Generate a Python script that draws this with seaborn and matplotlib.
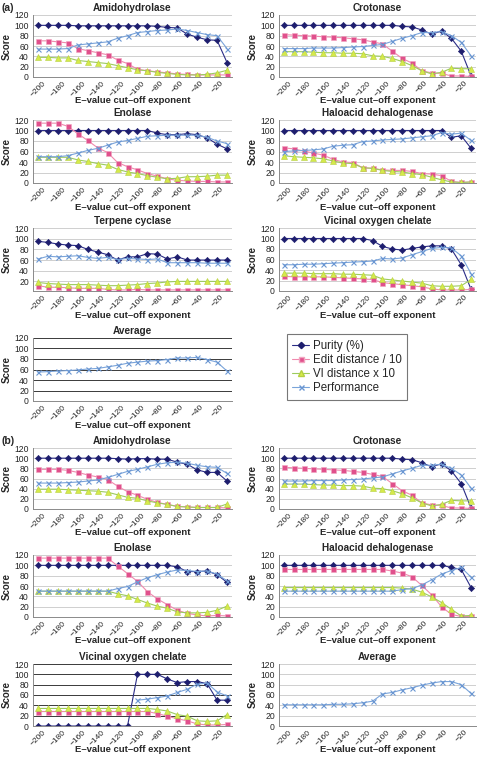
import matplotlib
matplotlib.use("Agg")
import matplotlib.pyplot as plt
from matplotlib.lines import Line2D
import seaborn as sns

# E-value cut-off exponents (x axis)
exponents = list(range(-200, -9, 10))
tick_pos = list(range(-200, -19, 20))

# ---- (a) ----
amido_a_purity = [100, 100, 100, 100, 99, 99, 99, 99, 99, 99, 99, 99, 98, 96, 95, 83, 77, 72, 71, 28]
amido_a_edit = [70, 70, 68, 66, 55, 51, 47, 43, 33, 26, 15, 12, 10, 8, 6, 5, 4, 4, 4, 4]
amido_a_vi = [38, 38, 37, 37, 32, 30, 28, 26, 22, 18, 14, 12, 9, 7, 5, 4, 4, 5, 8, 13]
amido_a_perf = [54, 54, 54, 55, 62, 64, 66, 68, 75, 80, 86, 88, 90, 91, 93, 90, 86, 82, 80, 55]

crot_a_purity = [100, 100, 100, 100, 100, 100, 100, 100, 100, 100, 100, 100, 98, 97, 91, 83, 89, 75, 50, 2]
crot_a_edit = [82, 81, 80, 79, 78, 77, 76, 74, 72, 68, 64, 50, 36, 27, 12, 8, 7, 2, 2, 1]
crot_a_vi = [49, 49, 49, 48, 47, 47, 46, 46, 45, 41, 40, 36, 30, 22, 12, 6, 9, 17, 16, 16]
crot_a_perf = [55, 55, 55, 56, 56, 56, 57, 58, 59, 61, 63, 69, 75, 80, 86, 86, 88, 80, 67, 41]

enol_a_purity = [100, 100, 100, 100, 100, 100, 100, 100, 100, 100, 100, 100, 95, 92, 92, 94, 92, 86, 74, 65]
enol_a_edit = [114, 114, 114, 108, 94, 81, 67, 58, 39, 31, 25, 18, 13, 8, 5, 4, 3, 3, 2, 2]
enol_a_vi = [49, 49, 49, 49, 44, 41, 37, 34, 26, 21, 18, 14, 11, 8, 9, 12, 12, 13, 15, 15]
enol_a_perf = [50, 50, 50, 52, 57, 62, 66, 72, 78, 81, 85, 89, 90, 91, 91, 91, 91, 87, 80, 75]

halo_a_purity = [100, 100, 100, 100, 100, 100, 100, 100, 100, 100, 100, 100, 100, 100, 100, 100, 100, 87, 90, 66]
halo_a_edit = [67, 65, 61, 57, 53, 45, 40, 39, 29, 28, 25, 24, 24, 22, 18, 17, 14, 3, 1, 2]
halo_a_vi = [52, 50, 49, 48, 46, 42, 38, 37, 29, 28, 24, 22, 21, 18, 16, 11, 6, 2, 1, 2]
halo_a_perf = [60, 61, 62, 63, 65, 70, 72, 73, 79, 80, 82, 83, 84, 86, 88, 90, 96, 93, 95, 81]

terp_a_purity = [95, 93, 90, 88, 87, 80, 75, 70, 60, 66, 66, 72, 71, 62, 66, 60, 60, 60, 60, 60]
terp_a_edit = [12, 9, 9, 8, 7, 7, 7, 5, 4, 4, 5, 4, 4, 4, 4, 4, 4, 4, 4, 4]
terp_a_vi = [18, 16, 15, 14, 14, 14, 13, 12, 12, 13, 14, 16, 17, 19, 20, 20, 20, 20, 20, 20]
terp_a_perf = [62, 67, 66, 67, 68, 65, 63, 65, 61, 63, 62, 61, 62, 55, 55, 55, 55, 54, 54, 54]

voc_a_purity = [100, 100, 100, 100, 100, 100, 100, 100, 100, 96, 85, 80, 78, 81, 84, 86, 86, 80, 50, 3]
voc_a_edit = [28, 27, 27, 27, 27, 26, 25, 24, 23, 22, 16, 14, 12, 10, 8, 4, 2, 2, 2, 3]
voc_a_vi = [34, 34, 34, 33, 33, 33, 32, 32, 31, 30, 23, 21, 19, 17, 15, 10, 9, 9, 10, 22]
voc_a_perf = [50, 50, 51, 51, 52, 53, 54, 55, 56, 57, 62, 61, 63, 69, 75, 81, 83, 82, 67, 33]

avg_a_perf = [55, 56, 57, 58, 59, 61, 62, 65, 68, 72, 74, 76, 77, 79, 82, 82, 83, 79, 74, 57]

# ---- (b) ----
amido_b_purity = [100, 100, 100, 100, 100, 100, 100, 100, 99, 98, 99, 99, 98, 98, 92, 88, 77, 72, 72, 55]
amido_b_edit = [78, 78, 78, 76, 72, 67, 63, 58, 45, 34, 27, 19, 13, 9, 5, 4, 3, 3, 3, 2]
amido_b_vi = [39, 39, 39, 38, 37, 36, 35, 33, 28, 23, 21, 16, 12, 9, 5, 4, 3, 3, 3, 10]
amido_b_perf = [51, 51, 51, 52, 53, 55, 57, 62, 68, 74, 78, 83, 88, 91, 92, 90, 86, 83, 82, 70]

crot_b_purity = [100, 100, 100, 100, 100, 100, 100, 100, 100, 100, 100, 100, 98, 97, 91, 83, 89, 75, 50, 2]
crot_b_edit = [82, 81, 80, 79, 78, 77, 76, 74, 72, 68, 64, 50, 36, 27, 12, 8, 7, 2, 2, 1]
crot_b_vi = [49, 49, 49, 48, 47, 47, 46, 46, 45, 41, 40, 36, 30, 22, 12, 6, 9, 17, 16, 16]
crot_b_perf = [55, 55, 55, 56, 56, 56, 57, 58, 59, 61, 63, 69, 75, 80, 86, 86, 88, 80, 67, 41]

enol_b_purity = [100, 100, 100, 100, 100, 100, 100, 100, 100, 100, 100, 100, 100, 100, 97, 88, 88, 89, 82, 67]
enol_b_edit = [114, 114, 114, 114, 114, 114, 114, 114, 99, 84, 69, 49, 35, 24, 13, 7, 4, 2, 3, 2]
enol_b_vi = [50, 50, 50, 50, 50, 50, 50, 50, 45, 41, 34, 27, 21, 17, 10, 8, 8, 9, 13, 21]
enol_b_perf = [50, 50, 50, 50, 50, 50, 50, 50, 55, 59, 68, 76, 82, 87, 91, 90, 88, 89, 83, 70]

halo_b_purity = [100, 100, 100, 100, 100, 100, 100, 100, 100, 100, 100, 100, 100, 100, 100, 100, 100, 96, 92, 57]
halo_b_edit = [92, 92, 92, 92, 92, 92, 92, 92, 92, 92, 92, 89, 85, 78, 61, 43, 20, 5, 1, 1]
halo_b_vi = [57, 57, 57, 57, 57, 57, 57, 57, 57, 57, 57, 57, 56, 54, 48, 39, 28, 15, 2, 3]
halo_b_perf = [50, 50, 50, 50, 50, 50, 50, 50, 50, 50, 50, 50, 53, 55, 62, 72, 83, 90, 96, 77]

nan = float("nan")
voc_b_purity = [0, 0, 0, 0, 0, 0, 0, 0, 0, 0, 100, 100, 100, 91, 84, 86, 86, 82, 50, 50]
voc_b_edit = [28, 28, 28, 28, 28, 28, 28, 28, 28, 28, 28, 28, 24, 19, 14, 10, 4, 2, 2, 3]
voc_b_vi = [34, 34, 34, 34, 34, 34, 34, 34, 34, 34, 34, 34, 32, 29, 22, 19, 10, 9, 10, 22]
voc_b_perf = [nan, nan, nan, nan, nan, nan, nan, nan, nan, nan, 50, 52, 55, 58, 65, 71, 81, 83, 66, 58]

avg_b_perf = [41, 41, 41, 41, 41, 42, 42, 43, 45, 48, 62, 65, 70, 74, 79, 83, 86, 86, 80, 63]

# series styles
styles = {
    "Purity (%)": dict(color="#2A2C86", marker="D", markersize=3.2, mfc="#1E1E6E", mec="#1E1E6E"),
    "Edit distance / 10": dict(color="#F08AAE", marker="s", markersize=3.6, mfc="#E0508C", mec="#F2A4C0"),
    "VI distance x 10": dict(color="#9CCB5E", marker="^", markersize=4.0, mfc="#D6EA4A", mec="#B4D040"),
    "Performance": dict(color="#7AA4DA", marker="x", markersize=3.6, mfc="#6A96D2", mec="#6A96D2"),
}

sns.set_style("white")
plt.rcParams["font.family"] = ["Liberation Sans", "DejaVu Sans"]

W, H = 478, 757
fig = plt.figure(figsize=(W / 100, H / 100), dpi=100)

cols = {"L": (33, 232), "R": (279, 476)}
rows = [(15, 77), (120, 183), (228, 291), (338, 401), (448, 509), (555, 617), (664, 726)]


def panel(col, row, title, series, dark_grid=False, ymin=0, ytick_start=0):
    x0, x1 = cols[col]
    y0, y1 = rows[row]
    ax = fig.add_axes([x0 / W, 1 - y1 / H, (x1 - x0) / W, (y1 - y0) / H])
    for name, vals in series:
        st = styles[name]
        sns.lineplot(x=exponents, y=vals, ax=ax, color=st["color"], linewidth=0.8,
                     marker=st["marker"], markersize=st["markersize"],
                     markerfacecolor=st["mfc"], markeredgecolor=st["mec"],
                     markeredgewidth=0.8 if st["marker"] == "x" else 0.4)
    ax.set_xlim(-205, -5)
    ax.set_ylim(ymin, 120)
    ax.set_yticks(range(ytick_start, 121, 20))
    ax.set_xticks(tick_pos)
    ax.tick_params(axis="x", labelsize=6, rotation=45, length=2, pad=0, color="#888888")
    ax.tick_params(axis="y", labelsize=6.2, length=2, pad=1, color="#888888")
    for lbl in ax.get_xticklabels():
        lbl.set_ha("center")
    ax.grid(axis="y", color="#3A3A3A" if dark_grid else "#CFCFCF", linewidth=0.7)
    ax.set_axisbelow(True)
    for side in ["top", "right"]:
        ax.spines[side].set_visible(False)
    for side in ["left", "bottom"]:
        ax.spines[side].set_color("#8A8A8A")
        ax.spines[side].set_linewidth(0.7)
    ax.set_title(title, fontsize=7.2, fontweight="bold", pad=3)
    ax.set_ylabel("Score", fontsize=7, fontweight="bold", labelpad=2)
    ax.set_xlabel("E\u2013value cut\u2013off exponent", fontsize=6.8, fontweight="bold", va="center")
    ax.xaxis.set_label_coords(0.5, -0.385)
    return ax


def four(p, e, v, f):
    return [("Purity (%)", p), ("Edit distance / 10", e), ("VI distance x 10", v), ("Performance", f)]


# (a)
panel("L", 0, "Amidohydrolase", four(amido_a_purity, amido_a_edit, amido_a_vi, amido_a_perf))
panel("R", 0, "Crotonase", four(crot_a_purity, crot_a_edit, crot_a_vi, crot_a_perf))
panel("L", 1, "Enolase", four(enol_a_purity, enol_a_edit, enol_a_vi, enol_a_perf))
panel("R", 1, "Haloacid dehalogenase", four(halo_a_purity, halo_a_edit, halo_a_vi, halo_a_perf))
panel("L", 2, "Terpene cyclase", four(terp_a_purity, terp_a_edit, terp_a_vi, terp_a_perf), ymin=2, ytick_start=20)
panel("R", 2, "Vicinal oxygen chelate", four(voc_a_purity, voc_a_edit, voc_a_vi, voc_a_perf))
panel("L", 3, "Average", [("Performance", avg_a_perf)], dark_grid=True)

# (b)
panel("L", 4, "Amidohydrolase", four(amido_b_purity, amido_b_edit, amido_b_vi, amido_b_perf))
panel("R", 4, "Crotonase", four(crot_b_purity, crot_b_edit, crot_b_vi, crot_b_perf))
panel("L", 5, "Enolase", four(enol_b_purity, enol_b_edit, enol_b_vi, enol_b_perf))
panel("R", 5, "Haloacid dehalogenase", four(halo_b_purity, halo_b_edit, halo_b_vi, halo_b_perf))
panel("L", 6, "Vicinal oxygen chelate", four(voc_b_purity, voc_b_edit, voc_b_vi, voc_b_perf), dark_grid=True)
panel("R", 6, "Average", [("Performance", avg_b_perf)])

# legend
handles = [Line2D([0], [0], color=st["color"], linewidth=0.8, marker=st["marker"],
                  markersize=st["markersize"], markerfacecolor=st["mfc"], markeredgecolor=st["mec"])
           for st in styles.values()]
leg = fig.legend(handles, list(styles.keys()), loc="center",
                 bbox_to_anchor=((284 + 410) / 2 / W, 1 - (333 + 401) / 2 / H),
                 fontsize=8.3, frameon=True, fancybox=False, handlelength=1.5,
                 handletextpad=0.3, labelspacing=0.2, borderpad=0.45)
leg.get_frame().set_edgecolor("#555555")
leg.get_frame().set_linewidth(0.8)

fig.text(1 / W, 1 - 8 / H, "(a)", fontsize=7.5, fontweight="bold", va="center")
fig.text(1 / W, 1 - 441 / H, "(b)", fontsize=7.5, fontweight="bold", va="center")

fig.savefig("out.png", dpi=100)
